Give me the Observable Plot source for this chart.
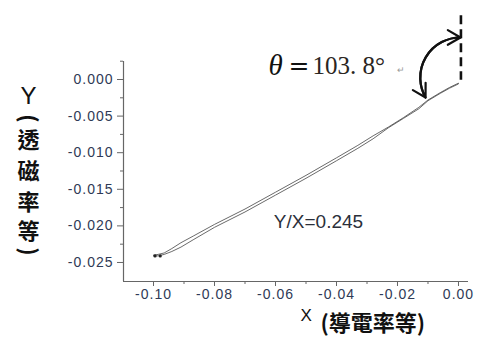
<!DOCTYPE html>
<html><head><meta charset="utf-8">
<script src="https://cdn.jsdelivr.net/npm/d3@7"></script>
<script src="https://cdn.jsdelivr.net/npm/@observablehq/plot@0.6"></script>
<style>
html,body{margin:0;padding:0;background:#fff;}
#chart{width:480px;height:338px;overflow:hidden;}
#chart g[aria-label="y-axis tick label"] text,
#chart g[aria-label="x-axis tick label"] text{letter-spacing:1px;}
</style></head><body><div id="chart"></div>
<script>
// ---- data ----
const xTicks = [-0.10, -0.08, -0.06, -0.04, -0.02, 0.00];
const xMinorTicks = [-0.09, -0.07, -0.05, -0.03, -0.01];
const yTicks = [0.000, -0.005, -0.010, -0.015, -0.020, -0.025];
const yMinorTicks = [0.0025, -0.0025, -0.0075, -0.0125, -0.0175, -0.0225];
const xDomain = [-0.10984, 0.00328];
const yDomain = [-0.0276, 0.00246];

// hysteresis loop (two branches)
const loopX  = [-0.1000,-0.0985,-0.0965,-0.0940,-0.0910,-0.0870,-0.0800,-0.0700,-0.0600,-0.0500,-0.0400,-0.0330,-0.0280,-0.0230,-0.0180,-0.0130,-0.0100,-0.0060,-0.0030, 0.0000];
const upperY = [-0.0240,-0.0239,-0.0237,-0.0231,-0.0223,-0.0214,-0.0198,-0.0177,-0.0154,-0.0131,-0.0107,-0.0090,-0.0077,-0.0065,-0.0052,-0.0038,-0.0028,-0.0018,-0.0011,-0.0005];
const lowerY = [-0.0241,-0.0241,-0.0239,-0.0235,-0.0229,-0.0219,-0.0202,-0.0181,-0.0158,-0.0135,-0.0111,-0.0094,-0.0081,-0.0066,-0.0053,-0.0040,-0.0029,-0.0019,-0.0012,-0.0006];
const endDotsX = [-0.0995, -0.0978];
const endDotsY = [-0.0241, -0.0241];

// annotations (data coordinates)
const dashedX = [0.0008];
const dashedY = [0.0087, -0.0001];
const arcBottom = [-0.0108, -0.00246];
const arcTop = [0.00066, 0.00574];
const ratioText = ["Y/X=0.245"];
const ratioPos = [-0.0459, -0.01947];
const angleParts = ["θ", "=", "103. 8°", "↵"];
const angleX = [-0.0623, -0.0557, -0.0479, -0.0200];
const angleY = [0.00182, 0.00182, 0.00182, 0.00123];
const yLabelChars = ["Y", "(", "透", "磁", "率", "等", ")"];
const xLabelParts = ["X", "(導電率等)"];

// ---- build ----
const loop = [
  ...loopX.map((x, i) => ({x, y: upperY[i]})),
  ...loopX.map((x, i) => ({x, y: lowerY[i]})).reverse()
];
const ends = endDotsX.map((x, i) => ({x, y: endDotsY[i]}));
const arc = [{x1: arcBottom[0], y1: arcBottom[1], x2: arcTop[0], y2: arcTop[1]}];
const arcRev = [{x1: arcTop[0], y1: arcTop[1], x2: arcBottom[0], y2: arcBottom[1]}];
const dashed = [{x: dashedX[0], y1: dashedY[0], y2: dashedY[1]}];
const angleData = angleParts.map((t, i) => ({t, x: angleX[i], y: angleY[i]}));

const tickColor = "#2f3a56";
const axisColor = "#666";
const sans = "'Liberation Sans', Arial, sans-serif";
const cjk = "'Noto Sans CJK TC', 'Noto Sans CJK SC', sans-serif";
const serif = "'Liberation Serif', 'Times New Roman', serif";

// y label layout (offsets from top-left of frame)
const yLabelDy = [35, 57, 79, 110, 141, 170, 190];
const yLabelMarks = yLabelChars.map((c, i) => Plot.text([c], {
  text: d => d, frameAnchor: "top-left", dx: -95, dy: yLabelDy[i],
  textAnchor: "middle", lineAnchor: "middle",
  fontSize: i === 0 ? 24 : 22,
  fontWeight: i === 0 ? "normal" : "bold",
  fontFamily: i === 0 ? sans : cjk,
  rotate: (c === "(" || c === ")") ? 90 : 0,
  fill: "#111"
}));

const chart = Plot.plot({
  width: 480, height: 338,
  marginLeft: 123, marginRight: 12, marginTop: 61, marginBottom: 57,
  style: {fontFamily: sans, background: "#fff", overflow: "visible"},
  x: {domain: xDomain, axis: null},
  y: {domain: yDomain, axis: null},
  marks: [
    Plot.ruleX([xDomain[0]], {stroke: axisColor, strokeWidth: 1.2}),
    Plot.ruleY([yDomain[0]], {stroke: axisColor, strokeWidth: 1.2}),
    Plot.axisY(yTicks, {anchor: "left", tickSize: 6, tickPadding: 4, tickFormat: d => d.toFixed(3),
      fill: tickColor, stroke: axisColor, fontSize: 14, fontFamily: sans, label: null}),
    Plot.axisY(yMinorTicks, {anchor: "left", tickSize: 3, tickFormat: () => "", stroke: axisColor, label: null}),
    Plot.axisX(xTicks, {anchor: "bottom", tickSize: 5, tickPadding: 3, tickFormat: d => d.toFixed(2),
      fill: tickColor, stroke: axisColor, fontSize: 14, fontFamily: sans, label: null}),
    Plot.axisX(xMinorTicks, {anchor: "bottom", tickSize: 3, tickFormat: () => "", stroke: axisColor, label: null}),
    Plot.line(loop, {x: "x", y: "y", stroke: "#444", strokeWidth: 0.8}),
    Plot.dot(ends, {x: "x", y: "y", r: 1.6, fill: "#222", stroke: "none"}),
    Plot.ruleX(dashed, {x: "x", y1: "y1", y2: "y2", stroke: "#111", strokeWidth: 2.6, strokeDasharray: "9,5"}),
    Plot.arrow(arc, {x1: "x1", y1: "y1", x2: "x2", y2: "y2", bend: 60, stroke: "#111", strokeWidth: 2.2, headLength: 10, headAngle: 60}),
    Plot.arrow(arcRev, {x1: "x1", y1: "y1", x2: "x2", y2: "y2", bend: -60, stroke: "#111", strokeWidth: 2.2, headLength: 10, headAngle: 60}),
    Plot.text(ratioText, {x: () => ratioPos[0], y: () => ratioPos[1], text: d => d, fontSize: 19, fontFamily: sans, fill: "#2b2f3a", textAnchor: "middle", lineAnchor: "middle"}),
    Plot.text(angleData.filter(d => d.t === "θ"), {x: "x", y: "y", text: "t", fontSize: 29, fontStyle: "italic", fontFamily: serif, fill: "#111", textAnchor: "start", lineAnchor: "middle"}),
    Plot.text(angleData.filter(d => d.t === "="), {x: "x", y: "y", text: "t", fontSize: 25, fontFamily: "'DejaVu Serif', serif", fill: "#111", textAnchor: "start", lineAnchor: "middle"}),
    Plot.text(angleData.filter(d => d.t.startsWith("103")), {x: "x", y: "y", text: "t", fontSize: 25, fontFamily: serif, fill: "#2a2522", textAnchor: "start", lineAnchor: "middle"}),
    Plot.text(angleData.filter(d => d.t === "↵"), {x: "x", y: "y", text: "t", fontSize: 9, fontFamily: sans, fill: "#9a9a9a", textAnchor: "start", lineAnchor: "middle"}),
    ...yLabelMarks,
    Plot.text([xLabelParts[0]], {text: d => d, frameAnchor: "bottom-left", dx: 177, dy: 34, textAnchor: "start", lineAnchor: "middle", fontSize: 17, fontFamily: sans, fill: "#111"}),
    Plot.text([xLabelParts[1]], {text: d => d, frameAnchor: "bottom-left", dx: 197, dy: 42, textAnchor: "start", lineAnchor: "middle", fontSize: 22, fontWeight: "bold", fontFamily: cjk, fill: "#111"})
  ]
});
document.getElementById("chart").appendChild(chart);
</script>
</body></html>
